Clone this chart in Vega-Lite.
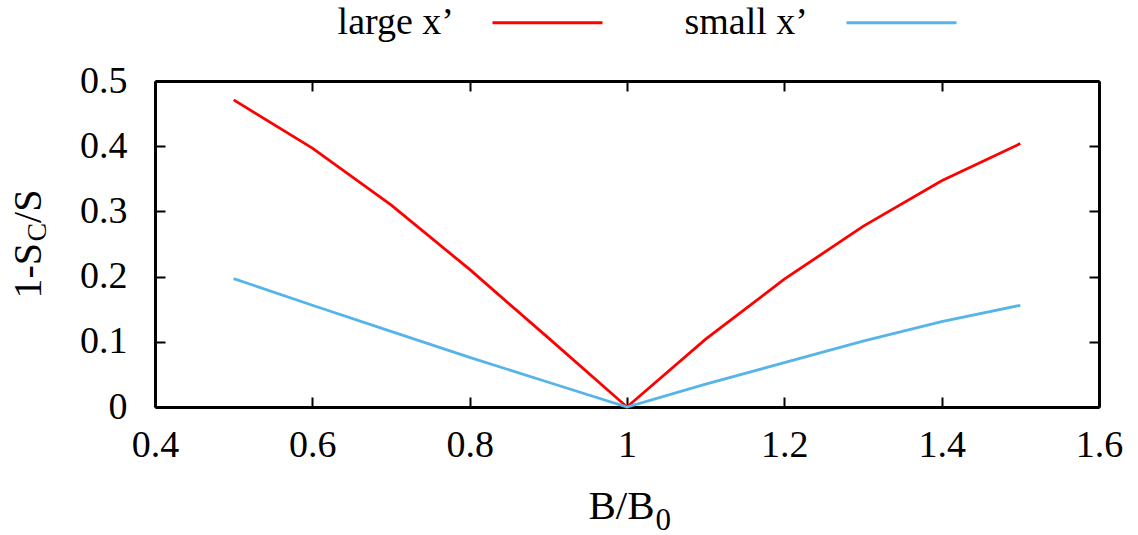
{
  "$schema": "https://vega.github.io/schema/vega-lite/v6.json",
  "width": 944,
  "height": 326,
  "autosize": "none",
  "padding": {"left": 155, "top": 81, "right": 39, "bottom": 128},
  "background": "white",
  "config": {
    "view": {"stroke": null},
    "font": "Liberation Serif",
    "style": {
      "guide-label": {"font": "Liberation Serif", "fill": "black"},
      "guide-title": {"font": "Liberation Serif", "fill": "black"}
    },
    "axis": {
      "grid": false,
      "domainColor": "black",
      "domainWidth": 3,
      "tickColor": "black",
      "tickWidth": 2,
      "tickSize": -10,
      "labelFont": "Liberation Serif",
      "labelFontSize": 38,
      "labelColor": "black",
      "labelFlush": false,
      "labelOverlap": false,
      "titleFont": "Liberation Serif",
      "titleColor": "black",
      "titleFontWeight": "normal",
      "titleFontSize": 40
    }
  },
  "data": {
    "values": [
      {"b": 0.5, "v": 0.471, "s": "large x’"},
      {"b": 0.6, "v": 0.397, "s": "large x’"},
      {"b": 0.7, "v": 0.310, "s": "large x’"},
      {"b": 0.8, "v": 0.211, "s": "large x’"},
      {"b": 0.9, "v": 0.106, "s": "large x’"},
      {"b": 1.0, "v": 0.0, "s": "large x’"},
      {"b": 1.1, "v": 0.104, "s": "large x’"},
      {"b": 1.2, "v": 0.196, "s": "large x’"},
      {"b": 1.3, "v": 0.277, "s": "large x’"},
      {"b": 1.4, "v": 0.347, "s": "large x’"},
      {"b": 1.5, "v": 0.404, "s": "large x’"},
      {"b": 0.5, "v": 0.197, "s": "small x’"},
      {"b": 0.6, "v": 0.156, "s": "small x’"},
      {"b": 0.7, "v": 0.116, "s": "small x’"},
      {"b": 0.8, "v": 0.076, "s": "small x’"},
      {"b": 0.9, "v": 0.038, "s": "small x’"},
      {"b": 1.0, "v": 0.0, "s": "small x’"},
      {"b": 1.1, "v": 0.035, "s": "small x’"},
      {"b": 1.2, "v": 0.068, "s": "small x’"},
      {"b": 1.3, "v": 0.101, "s": "small x’"},
      {"b": 1.4, "v": 0.131, "s": "small x’"},
      {"b": 1.5, "v": 0.156, "s": "small x’"}
    ]
  },
  "layer": [
    {
      "mark": {"type": "line", "strokeWidth": 2.8},
      "encoding": {
        "x": {
          "field": "b", "type": "quantitative",
          "scale": {"domain": [0.4, 1.6], "nice": false, "zero": false},
          "axis": {
            "orient": "bottom",
            "values": [0.4, 0.6, 0.8, 1.0, 1.2, 1.4, 1.6],
            "format": "~g",
            "labelFont": "Liberation Serif",
            "labelFontSize": 38,
            "labelPadding": 29,
            "title": "B/B",
            "titleFont": "Liberation Serif",
            "titleFontSize": 41,
            "titleAngle": 0,
            "titleAlign": "left",
            "titleBaseline": "alphabetic",
            "titleX": 433,
            "titleY": 111
          }
        },
        "y": {
          "field": "v", "type": "quantitative",
          "scale": {"domain": [0, 0.5], "nice": false},
          "axis": {
            "orient": "left",
            "values": [0, 0.1, 0.2, 0.3, 0.4, 0.5],
            "format": "~g",
            "labelFont": "Liberation Serif",
            "labelFontSize": 38,
            "labelPadding": 38,
            "title": "1-S\u00a0\u00a0/S",
            "titleFont": "Liberation Serif",
            "titleFontSize": 40,
            "titleAngle": -90,
            "titleAlign": "left",
            "titleBaseline": "alphabetic",
            "titleX": -115,
            "titleY": 217
          }
        },
        "color": {
          "field": "s", "type": "nominal",
          "scale": {"domain": ["large x’", "small x’"], "range": ["#ff0000", "#56b4e9"]},
          "legend": {
            "orient": "none",
            "legendX": 336,
            "legendY": -115,
            "direction": "horizontal",
            "title": null,
            "symbolType": "stroke",
            "symbolSize": 12100,
            "symbolStrokeWidth": 2.8,
            "labelAlign": "right",
            "labelOffset": -150,
            "labelFont": "Liberation Serif",
            "labelFontSize": 38,
            "labelColor": "black",
            "labelLimit": 0,
            "columnPadding": 75,
            "padding": 0
          }
        }
      }
    },
    {
      "mark": {"type": "point", "opacity": 0},
      "encoding": {
        "x": {
          "field": "b", "type": "quantitative",
          "scale": {"domain": [0.4, 1.6], "nice": false, "zero": false},
          "axis": {
            "orient": "top",
            "values": [0.4, 0.6, 0.8, 1.0, 1.2, 1.4, 1.6],
            "labels": false,
            "title": "0",
            "titleFont": "Liberation Serif",
            "titleFontSize": 31,
            "titleAngle": 0,
            "titleAlign": "left",
            "titleBaseline": "alphabetic",
            "titleX": 500,
            "titleY": 448
          }
        },
        "y": {
          "field": "v", "type": "quantitative",
          "scale": {"domain": [0, 0.5], "nice": false},
          "axis": {
            "orient": "right",
            "values": [0, 0.1, 0.2, 0.3, 0.4, 0.5],
            "labels": false,
            "title": "C",
            "titleFont": "Liberation Serif",
            "titleFontSize": 28,
            "titleAngle": -90,
            "titleAlign": "left",
            "titleBaseline": "alphabetic",
            "titleX": -1054,
            "titleY": 160
          }
        }
      }
    }
  ],
  "resolve": {"axis": {"x": "independent", "y": "independent"}}
}
